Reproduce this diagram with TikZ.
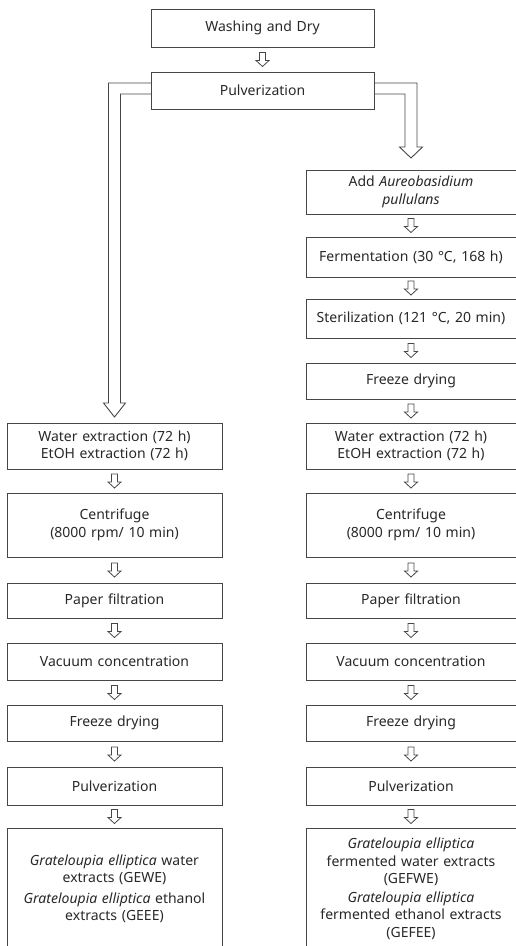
\documentclass[tikz,border=0pt]{standalone}
\usepackage{fontspec}
\setmainfont{Noto Sans}
\definecolor{linegray}{RGB}{70,70,70}
\definecolor{textgray}{RGB}{40,40,40}
\usetikzlibrary{positioning,calc}
\tikzset{
  box/.style   = {rectangle, draw=linegray, line width=0.9pt, outer sep=0pt,
                  align = center, inner sep = 3pt, text = textgray,
                  font = \fontsize{14}{17.5}\selectfont},
  lbox/.style  = {box, text width = 209pt},
  rbox/.style  = {box, text width = 204pt},
  tbox/.style  = {box, text width = 217pt},
  sarr/.style  = {draw=linegray, line width=0.8pt,
                  to path = {let \p1 = ($(\tikztostart)!.5!(\tikztotarget)$) in
                    (\x1-3pt,\y1+7pt) -- (\x1-3pt,\y1-1pt) -- (\x1-6.5pt,\y1-1pt)
                    -- (\x1,\y1-7pt) -- (\x1+6.5pt,\y1-1pt) -- (\x1+3pt,\y1-1pt)
                    -- (\x1+3pt,\y1+7pt) -- cycle}},
  fat/.style   = {draw=linegray, line width=0.9pt, line join=miter}
}
\begin{document}
\begin{tikzpicture}[x=1pt, y=-1pt, node distance=24pt]
  \useasboundingbox (0,0) rectangle (516,946);

  % common trunk
  \node[tbox, minimum height=38pt, anchor=north] (wash) at (262.5,9) {Washing and Dry};
  \node[tbox, minimum height=37pt, below=25pt of wash] (pulv) {Pulverization};

  % fermented branch (right)
  \node[rbox, minimum height=44pt, anchor=north] (r1) at (411,170)
    {Add \textit{Aureobasidium}\\\textit{pullulans}};
  \node[rbox, minimum height=40pt, below=23pt of r1] (r2) {Fermentation (30 °C, 168 h)};
  \node[rbox, minimum height=39pt, below=22pt of r2] (r3) {Sterilization (121 °C, 20 min)};
  \node[rbox, minimum height=36pt, below=25pt of r3] (r4) {Freeze drying};
  \node[rbox, minimum height=46pt, below=of r4] (r5) {Water extraction (72 h)\\EtOH extraction (72 h)};
  \node[rbox, minimum height=64pt, below=of r5] (r6) {Centrifuge\\(8000 rpm/ 10 min)};
  \node[rbox, minimum height=35pt, below=26pt of r6] (r7) {Paper filtration};
  \node[rbox, minimum height=37pt, below=25pt of r7] (r8) {Vacuum concentration};
  \node[rbox, minimum height=36pt, below=25pt of r8] (r9) {Freeze drying};
  \node[rbox, minimum height=38pt, below=26pt of r9] (r10) {Pulverization};
  \node[rbox, minimum height=122pt, below=23pt of r10] (r11)
    {\textit{Grateloupia elliptica}\\fermented water extracts\\(GEFWE)\\[1pt]
     \textit{Grateloupia elliptica}\\fermented ethanol extracts\\(GEFEE)};

  % non-fermented branch (left), level with the right one
  \coordinate (lx) at (114.5,0);
  \node[lbox, minimum height=46pt] (l5) at (r5 -| lx)
    {Water extraction (72 h)\\EtOH extraction (72 h)};
  \node[lbox, minimum height=64pt] (l6) at (r6 -| lx) {Centrifuge\\(8000 rpm/ 10 min)};
  \node[lbox, minimum height=35pt] (l7) at (r7 -| lx) {Paper filtration};
  \node[lbox, minimum height=37pt] (l8) at (r8 -| lx) {Vacuum concentration};
  \node[lbox, minimum height=36pt] (l9) at (r9 -| lx) {Freeze drying};
  \node[lbox, minimum height=38pt] (l10) at (r10 -| lx) {Pulverization};
  \node[lbox, minimum height=122pt] (l11) at (r11 -| lx)
    {\textit{Grateloupia elliptica} water\\extracts (GEWE)\\[3pt]
     \textit{Grateloupia elliptica} ethanol\\extracts (GEEE)};

  % small hollow arrows
  \foreach \a/\b in {wash/pulv, r1/r2, r2/r3, r3/r4, r4/r5, r5/r6, r6/r7,
                     r7/r8, r8/r9, r9/r10, r10/r11, l5/l6, l6/l7, l7/l8,
                     l8/l9, l9/l10, l10/l11}
    \draw[sarr] (\a.south) to (\b.north);

  % bent arrows out of the pulverization step
  \draw[fat] let \p1 = (pulv.north west), \p2 = (l5.north) in
    (\x1,\y1-11pt) -- (\x2-6pt,\y1-11pt) -- (\x2-6pt,\y2+20pt)
    -- (\x2-11pt,\y2+20pt) -- (\x2,\y2+6pt) -- (\x2+11pt,\y2+20pt)
    -- (\x2+6pt,\y2+20pt) -- (\x2+6pt,\y1-22pt) -- (\x1,\y1-22pt);
  \draw[fat] let \p1 = (pulv.north east), \p2 = (r1.north) in
    (\x1,\y1-11pt) -- (\x2+6pt,\y1-11pt) -- (\x2+6pt,\y2+23pt)
    -- (\x2+11.5pt,\y2+23pt) -- (\x2,\y2+12pt) -- (\x2-11.5pt,\y2+23pt)
    -- (\x2-6pt,\y2+23pt) -- (\x2-6pt,\y1-22pt) -- (\x1,\y1-22pt);
\end{tikzpicture}
\end{document}
